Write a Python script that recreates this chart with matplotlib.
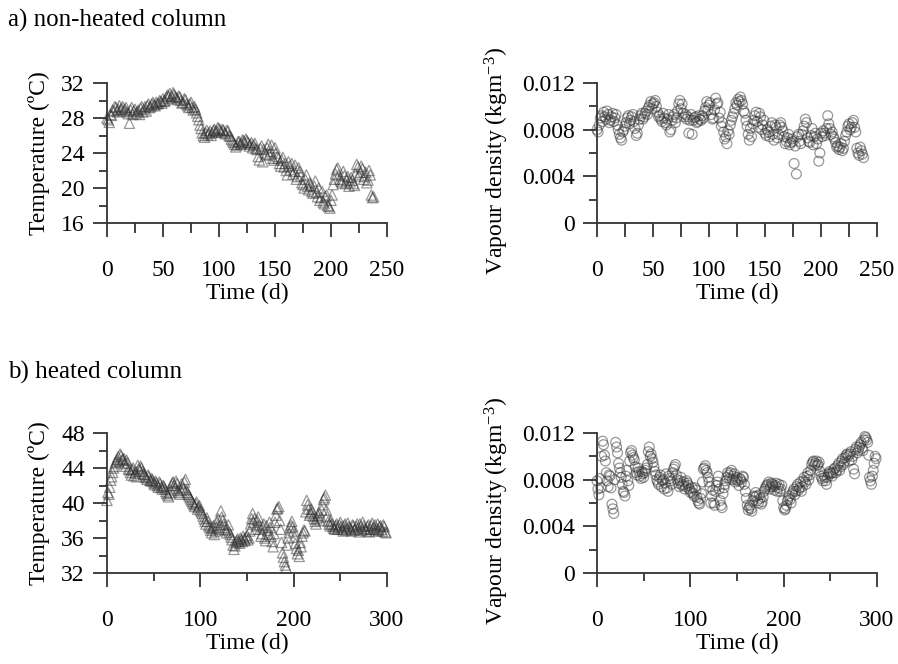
import numpy as np
import matplotlib
matplotlib.use("Agg")
import matplotlib.pyplot as plt
from matplotlib.ticker import MultipleLocator

plt.rcParams['font.family'] = ['Liberation Serif', 'DejaVu Serif']
plt.rcParams['mathtext.fontset'] = 'custom'
plt.rcParams['mathtext.rm'] = 'Liberation Serif'
plt.rcParams['mathtext.it'] = 'Liberation Serif:italic'

# ---- data: a) non-heated column ----
days_a = np.arange(0, 240, 2)
temp_a = [28.0, 27.5, 28.3, 28.8, 29.2, 29.0, 28.9, 29.3, 29.0, 28.7,
          27.4, 29.2, 28.8, 28.5, 28.9, 29.1, 28.7, 29.3, 29.4, 29.2,
          29.6, 29.5, 29.8, 29.7, 29.9, 30.2, 30.0, 30.6, 30.8, 30.5,
          30.7, 30.3, 30.5, 30.0, 29.8, 30.1, 29.4, 29.6, 29.2, 29.3,
          28.6, 27.8, 26.8, 26.0, 26.3, 26.1, 26.5, 26.3, 26.7, 26.5,
          26.8, 26.4, 26.6, 26.2, 26.5, 25.9, 25.4, 25.0, 24.9, 25.3,
          25.1, 25.4, 25.6, 25.2, 25.0, 24.6, 25.1, 24.4, 23.2, 24.8,
          24.4, 23.8, 25.0, 24.2, 23.4, 24.6, 23.6, 22.8, 23.2, 22.4,
          22.0, 23.0, 22.1, 21.6, 22.6, 21.3, 21.9, 20.6, 20.0, 21.5,
          19.8, 20.3, 19.4, 20.8, 19.0, 18.6, 19.6, 18.2, 19.2, 17.9,
          18.6, 20.4, 21.6, 22.3, 21.0, 20.6, 21.4, 20.9, 20.2, 21.2,
          20.5, 21.6, 22.4, 21.8, 22.2, 21.3, 20.6, 22.0, 19.2, 19.0]
vap_a = [8.0, 8.4, 9.2, 9.5, 8.9, 9.3, 8.8, 9.4, 9.0, 8.4,
         7.6, 7.1, 8.0, 8.6, 9.2, 8.8, 9.3, 8.1, 7.7, 8.9,
         9.4, 9.1, 9.6, 9.9, 10.4, 10.2, 10.5, 9.5, 9.2, 8.7,
         9.0, 8.4, 9.3, 8.0, 9.1, 8.6, 9.6, 10.5, 10.2, 9.1,
         8.9, 7.7, 9.3, 8.8, 9.1, 8.7, 8.9, 9.2, 9.6, 10.4,
         10.1, 9.3, 9.0, 10.7, 10.3, 9.5, 8.6, 7.2, 6.8, 7.6,
         8.8, 9.4, 10.3, 10.6, 10.8, 10.2, 9.4, 8.3, 7.1, 7.4,
         8.8, 9.5, 8.2, 9.1, 8.4, 7.7, 8.0, 7.4, 8.6, 7.1,
         8.2, 7.6, 8.6, 7.9, 6.8, 7.3, 6.7, 7.2, 5.1, 4.2,
         7.6, 6.8, 7.9, 8.9, 7.3, 6.9, 8.1, 7.4, 6.8, 5.3,
         7.7, 7.9, 7.5, 9.2, 8.1, 7.8, 7.2, 6.5, 6.3, 6.8,
         6.4, 7.5, 8.3, 8.0, 8.6, 8.2, 6.4, 5.8, 6.2, 5.6]

days_a2 = np.arange(1, 238, 2)
temp_a2 = [27.8, 28.4, 28.9, 29.3, 28.7, 29.4, 29.1, 28.8, 29.2, 28.5,
           28.9, 28.4, 29.0, 28.7, 28.4, 29.3, 29.0, 28.8, 29.6, 29.3,
           29.8, 29.4, 29.6, 30.0, 29.7, 29.9, 30.4, 30.5, 30.2, 30.9,
           30.4, 30.1, 30.4, 29.7, 30.2, 29.6, 29.2, 29.8, 28.9, 29.0,
           28.2, 27.2, 26.3, 25.8, 26.6, 26.3, 26.0, 26.6, 26.4, 26.9,
           26.6, 26.7, 26.3, 26.6, 26.0, 25.6, 25.2, 24.7, 25.3, 25.0,
           25.5, 25.2, 25.4, 24.8, 25.2, 24.9, 24.5, 23.6, 24.5, 23.0,
           24.0, 24.6, 23.8, 24.9, 23.2, 24.0, 23.4, 22.5, 23.5, 22.8,
           21.5, 22.5, 22.8, 21.9, 21.0, 22.3, 21.4, 20.4, 21.0, 20.2,
           20.6, 19.6, 20.2, 19.5, 20.0, 18.9, 18.4, 19.0, 18.0, 17.7,
           19.2, 21.0, 22.1, 21.5, 20.8, 21.9, 20.5, 21.3, 20.7, 20.9,
           20.3, 22.7, 21.4, 22.5, 21.0, 21.8, 20.9, 21.5, 18.9]
vap_a2 = [7.8, 9.0, 8.7, 9.1, 9.6, 8.6, 9.1, 8.7, 9.3, 8.0,
          7.3, 7.8, 8.3, 9.0, 8.5, 9.1, 8.7, 7.5, 8.4, 9.2,
          8.9, 9.4, 9.3, 10.1, 9.8, 10.3, 10.0, 9.1, 8.9, 9.4,
          8.6, 8.9, 7.8, 8.8, 9.3, 9.0, 10.2, 9.8, 9.4, 9.3,
          9.1, 8.8, 7.6, 9.0, 8.6, 9.2, 8.8, 9.0, 9.9, 9.7,
          10.3, 8.9, 9.7, 10.2, 9.0, 8.3, 7.8, 7.4, 7.9, 8.4,
          9.1, 9.8, 10.1, 10.4, 10.5, 9.6, 8.8, 7.6, 8.1, 8.5,
          9.2, 8.7, 9.4, 8.0, 8.8, 7.5, 7.8, 8.3, 7.6, 8.4,
          7.3, 8.4, 8.2, 7.4, 7.0, 7.6, 6.9, 7.0, 6.6, 7.4,
          7.0, 7.6, 8.3, 8.6, 7.0, 7.5, 6.7, 7.7, 7.2, 6.0,
          7.4, 7.7, 8.1, 8.5, 7.6, 7.4, 6.9, 6.6, 6.5, 6.2,
          7.0, 7.8, 8.5, 8.2, 8.8, 7.8, 6.0, 6.5, 5.9]

# ---- data: b) heated column ----
days_b = np.arange(0, 300, 2)
temp_b = [40.3, 41.0, 42.6, 43.5, 44.2, 44.8, 45.3, 45.6, 44.9, 45.1,
          44.2, 44.6, 43.8, 43.2, 44.0, 43.4, 43.0, 43.9, 44.2, 43.6,
          43.3, 42.9, 43.2, 42.6, 42.8, 42.3, 42.5, 42.0, 42.4, 41.8,
          42.0, 41.6, 41.1, 40.7, 41.5, 42.3, 42.0, 42.5, 41.4, 41.0,
          42.2, 41.6, 42.7, 41.2, 40.8, 40.4, 40.0, 39.6, 40.1, 39.5,
          39.2, 38.8, 38.2, 37.6, 37.9, 37.2, 36.6, 37.4, 36.8, 37.8,
          37.0, 39.1, 38.0, 37.2, 36.6, 37.5, 36.4, 35.8, 34.7, 35.5,
          35.9, 35.4, 35.8, 36.2, 35.7, 36.3, 36.0, 37.6, 38.8, 38.2,
          37.4, 38.4, 37.0, 36.5, 37.6, 35.7, 36.9, 37.8, 36.2, 35.0,
          37.8, 39.3, 39.6, 37.0, 34.3, 33.3, 32.6, 36.0, 37.2, 37.9,
          36.8, 35.4, 34.2, 33.9, 35.0, 36.6, 36.8, 40.3, 39.3, 38.8,
          39.0, 38.2, 37.6, 38.6, 38.0, 39.2, 40.4, 40.9, 38.5, 37.6,
          38.0, 37.3, 37.0, 37.6, 37.2, 37.8, 37.0, 37.4, 36.9, 37.7,
          37.2, 36.8, 37.4, 37.0, 37.6, 36.7, 37.3, 37.8, 37.1, 36.8,
          37.5, 37.0, 37.7, 37.2, 36.8, 37.6, 37.3, 37.0, 37.5, 36.7]
vap_b = [7.9, 6.7, 7.3, 11.3, 10.1, 8.6, 7.4, 8.3, 5.9, 5.1,
         11.2, 10.3, 9.0, 8.2, 7.0, 6.6, 8.8, 7.5, 10.3, 10.1,
         9.7, 8.6, 9.0, 8.3, 8.7, 8.2, 8.8, 9.3, 10.8, 10.2,
         9.5, 8.7, 8.0, 7.6, 8.4, 7.9, 7.2, 8.5, 7.0, 8.1,
         7.6, 8.9, 9.3, 8.0, 7.4, 8.2, 7.6, 7.2, 7.9, 7.5,
         6.9, 7.3, 6.6, 7.1, 6.2, 5.9, 6.8, 8.9, 9.2, 8.6,
         7.8, 6.0, 7.1, 5.8, 7.5, 8.3, 6.2, 5.6, 7.3, 7.9,
         8.6, 8.1, 8.8, 8.3, 7.8, 8.2, 7.5, 8.0, 8.3, 7.6,
         6.4, 5.4, 5.8, 5.3, 6.6, 6.9, 6.2, 6.7, 5.9, 6.5,
         7.2, 7.5, 7.8, 7.4, 7.6, 7.1, 7.7, 7.3, 7.0, 7.5,
         5.6, 5.5, 6.2, 6.6, 6.0, 7.0, 6.7, 7.4, 7.1, 7.8,
         7.4, 8.2, 7.6, 8.6, 8.4, 9.3, 9.6, 9.4, 9.2, 9.5,
         8.3, 7.9, 8.2, 7.6, 8.5, 8.6, 8.3, 8.9, 8.6, 9.2,
         8.8, 9.6, 9.3, 9.9, 10.2, 9.6, 10.4, 10.0, 8.5, 10.8,
         10.5, 11.0, 10.7, 11.4, 11.6, 11.2, 8.2, 7.6, 8.8, 10.0]

days_b2 = np.arange(1, 300, 2)
temp_b2 = [41.2, 41.8, 43.0, 44.0, 44.6, 45.0, 44.7, 45.4, 45.0, 44.5,
           44.9, 43.9, 43.5, 43.8, 43.1, 43.6, 44.3, 43.7, 44.0, 43.3,
           43.0, 42.7, 43.0, 42.5, 42.6, 42.1, 42.3, 41.8, 42.2, 41.6,
           41.9, 41.3, 40.9, 41.2, 42.0, 42.4, 41.7, 42.2, 41.2, 41.5,
           41.8, 42.4, 41.5, 41.0, 40.6, 40.2, 39.8, 39.9, 39.3, 39.7,
           39.0, 38.5, 37.9, 38.3, 37.4, 36.9, 37.1, 36.4, 37.2, 38.2,
           37.5, 38.4, 37.6, 36.9, 37.0, 36.7, 36.1, 35.2, 35.1, 35.7,
           35.6, 36.0, 35.6, 35.9, 36.1, 35.8, 36.8, 38.2, 37.8, 37.0,
           38.0, 37.5, 36.2, 37.2, 36.0, 37.4, 36.4, 37.2, 35.6, 36.5,
           38.6, 39.4, 38.0, 35.5, 33.8, 32.9, 35.2, 36.6, 37.5, 37.3,
           36.1, 34.8, 34.6, 35.5, 36.2, 36.9, 39.0, 39.8, 38.6, 39.3,
           38.5, 37.9, 38.2, 38.9, 38.4, 39.8, 40.6, 39.2, 37.9, 37.4,
           37.6, 37.1, 37.4, 37.0, 37.5, 37.3, 36.8, 37.6, 37.1, 37.3,
           37.0, 37.5, 36.9, 37.3, 37.1, 37.6, 36.9, 37.4, 37.0, 37.3,
           36.7, 37.4, 37.0, 37.5, 37.1, 36.9, 37.4, 36.8, 37.3, 36.6]
vap_b2 = [7.2, 8.1, 10.0, 11.0, 9.6, 7.9, 8.4, 7.3, 5.5, 8.0,
          10.8, 9.4, 8.6, 7.6, 6.9, 8.3, 7.9, 9.6, 10.5, 9.9,
          9.1, 8.4, 8.7, 8.1, 8.5, 8.6, 9.0, 10.4, 10.0, 9.8,
          9.1, 8.4, 7.8, 8.2, 7.4, 8.0, 7.7, 7.3, 8.3, 7.9,
          8.6, 9.1, 8.4, 7.7, 7.9, 7.5, 7.8, 7.4, 7.7, 7.2,
          7.0, 6.8, 7.3, 6.5, 6.0, 6.4, 7.8, 9.0, 8.8, 8.2,
          7.4, 6.6, 6.0, 7.0, 7.8, 7.2, 5.8, 6.8, 7.6, 8.2,
          8.4, 8.6, 8.0, 8.5, 8.0, 7.9, 8.1, 7.8, 8.2, 7.0,
          5.8, 5.6, 5.5, 6.2, 6.5, 6.6, 6.0, 6.4, 6.1, 7.0,
          7.4, 7.6, 7.2, 7.7, 7.4, 7.5, 7.0, 7.6, 7.2, 6.2,
          5.4, 5.8, 6.4, 6.3, 6.8, 7.2, 7.0, 7.6, 7.3, 7.0,
          7.9, 7.8, 8.3, 8.0, 8.8, 9.5, 9.2, 9.6, 9.3, 8.7,
          8.1, 8.4, 7.9, 8.2, 8.7, 8.5, 8.6, 9.0, 8.8, 9.4,
          9.1, 9.8, 9.5, 10.1, 10.0, 10.2, 9.7, 8.9, 10.6, 10.3,
          10.8, 11.2, 10.5, 11.7, 11.4, 10.1, 7.9, 8.3, 9.4, 9.8]

# ---- figure ----
W, H = 898, 664
fig = plt.figure(figsize=(W / 100, H / 100), dpi=100)

def ax_at(x0, y0, x1, y1):
    return fig.add_axes([x0 / W, 1 - y1 / H, (x1 - x0) / W, (y1 - y0) / H])

FS = 17
edge = (0.2, 0.2, 0.2, 0.5)

def style(ax, xmaj, xmin, ymaj, ymin, xminlen=9):
    for s in ('top', 'right'):
        ax.spines[s].set_visible(False)
    for s in ('left', 'bottom'):
        ax.spines[s].set_linewidth(1.3)
        ax.spines[s].set_color('#333333')
    ax.xaxis.set_major_locator(MultipleLocator(xmaj))
    ax.xaxis.set_minor_locator(MultipleLocator(xmin))
    ax.yaxis.set_major_locator(MultipleLocator(ymaj))
    ax.yaxis.set_minor_locator(MultipleLocator(ymin))
    ax.tick_params(axis='x', which='major', direction='out', length=10, width=1.3,
                   color='#333333', labelsize=FS, pad=17)
    ax.tick_params(axis='x', which='minor', direction='out', length=xminlen, width=1.3,
                   color='#333333')
    ax.tick_params(axis='y', which='major', direction='out', length=10, width=1.3,
                   color='#333333', labelsize=FS, pad=6)
    ax.tick_params(axis='y', which='minor', direction='out', length=6, width=1.3,
                   color='#333333')
    ax.set_xlabel('Time (d)', fontsize=FS, labelpad=1)

def scat(ax, x, y, marker, s):
    ax.scatter(x, y, marker=marker, s=s, facecolors='none', edgecolors=[edge],
               linewidths=0.9, clip_on=False)

# a) temperature
ax1 = ax_at(107, 83, 387, 223)
scat(ax1, days_a, temp_a, '^', 55)
scat(ax1, days_a2, temp_a2, '^', 55)
ax1.set_xlim(0, 250)
ax1.set_ylim(16, 32)
style(ax1, 50, 25, 4, 2, xminlen=7)
ax1.set_ylabel('Temperature (ºC)', fontsize=FS, labelpad=8)

# a) vapour density
ax2 = ax_at(597, 83, 877, 223)
scat(ax2, days_a, np.array(vap_a) * 1e-3, 'o', 50)
scat(ax2, days_a2, np.array(vap_a2) * 1e-3, 'o', 50)
ax2.set_xlim(0, 250)
ax2.set_ylim(0, 0.012)
style(ax2, 50, 25, 0.004, 0.002, xminlen=10)
ax2.set_yticks([0, 0.004, 0.008, 0.012])
ax2.set_yticklabels(['0', '0.004', '0.008', '0.012'])
ax2.set_ylabel('Vapour density (kgm$^{-3}$)', fontsize=FS, labelpad=8, y=0.44)

# b) temperature
ax3 = ax_at(107, 433, 387, 573)
scat(ax3, days_b, temp_b, '^', 55)
scat(ax3, days_b2, temp_b2, '^', 55)
ax3.set_xlim(0, 300)
ax3.set_ylim(32, 48)
style(ax3, 100, 50, 4, 2, xminlen=6)
ax3.set_ylabel('Temperature (ºC)', fontsize=FS, labelpad=8)

# b) vapour density
ax4 = ax_at(597, 433, 877, 573)
scat(ax4, days_b, np.array(vap_b) * 1e-3, 'o', 50)
scat(ax4, days_b2, np.array(vap_b2) * 1e-3, 'o', 50)
ax4.set_xlim(0, 300)
ax4.set_ylim(0, 0.012)
style(ax4, 100, 50, 0.004, 0.002, xminlen=6)
ax4.set_yticks([0, 0.004, 0.008, 0.012])
ax4.set_yticklabels(['0', '0.004', '0.008', '0.012'])
ax4.set_ylabel('Vapour density (kgm$^{-3}$)', fontsize=FS, labelpad=8, y=0.44)

fig.text(8 / W, 1 - 20 / H, 'a) non-heated column', fontsize=18, ha='left', va='center')
fig.text(8 / W, 1 - 372 / H, 'b) heated column', fontsize=18, ha='left', va='center')

fig.savefig('out.png', dpi=100)
